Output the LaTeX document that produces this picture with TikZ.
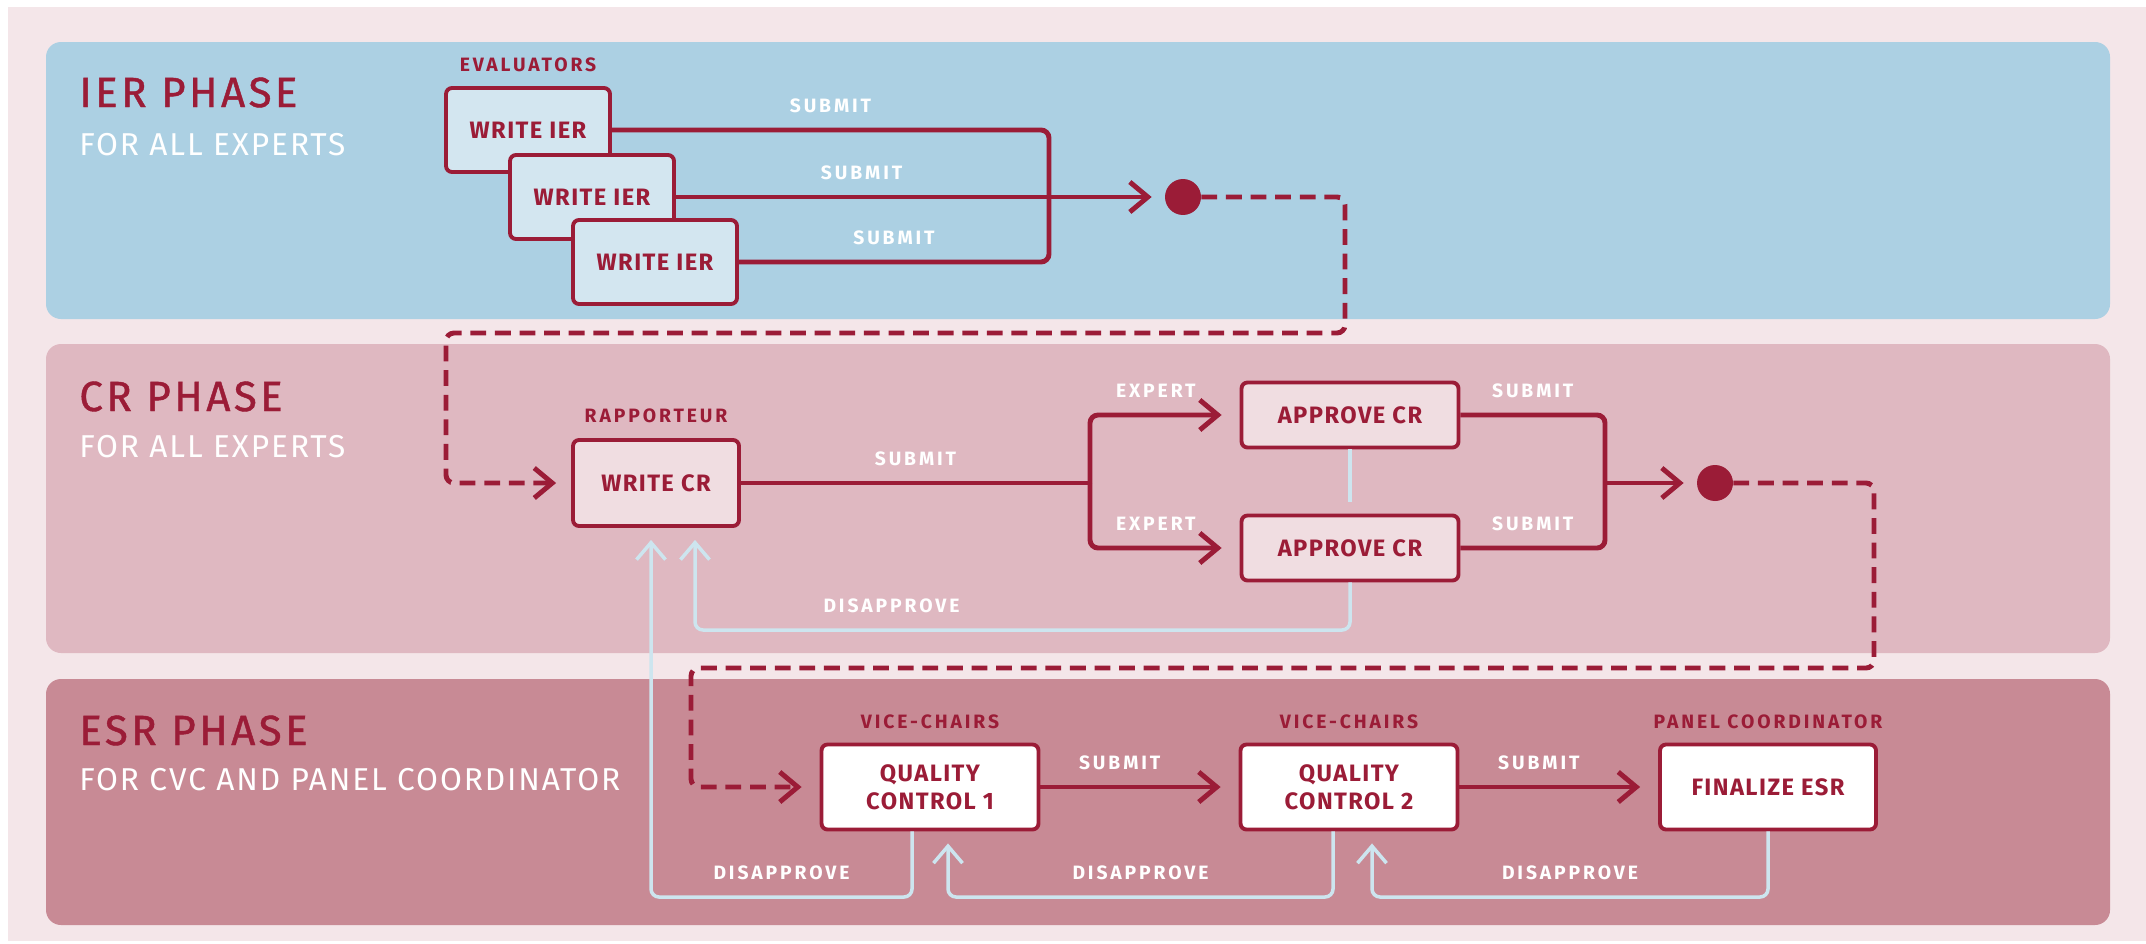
\documentclass[tikz,border=0pt]{standalone}
\usepackage{fontspec}
\setmainfont{Fira Sans}
\newfontfamily\titlefam{Fira Sans}[LetterSpace=8,FakeBold=1]
\newfontfamily\subfam{Fira Sans}[LetterSpace=6]
\newfontfamily\boxfam{Fira Sans}[LetterSpace=6]
\newfontfamily\tagfam{Fira Sans}[LetterSpace=15]
\newcommand{\titlefnt}{\titlefam\fontsize{24}{28}\selectfont}
\newcommand{\subfnt}{\subfam\fontsize{18}{22}\selectfont}
\newcommand{\boxfnt}{\boxfam\bfseries\fontsize{13.5}{16}\selectfont}
\newcommand{\tagfnt}{\tagfam\bfseries\fontsize{11}{13}\selectfont}
\usetikzlibrary{positioning}
\usetikzlibrary{arrows.meta}
\definecolor{bgpink}{HTML}{F4E6E9}
\definecolor{ierblue}{HTML}{ACD0E3}
\definecolor{ierbox}{HTML}{D3E6F0}
\definecolor{crpink}{HTML}{DFB8C1}
\definecolor{crbox}{HTML}{F0DDE1}
\definecolor{esrrose}{HTML}{C88A95}
\definecolor{wine}{HTML}{9B1C37}
\definecolor{paleblue}{HTML}{CDE5EF}

\begin{document}
\begin{tikzpicture}[
  x=0.02cm,y=-0.02cm,
  panel/.style={rounded corners=0.3cm},
  box/.style={draw=wine,line width=2.2pt,rounded corners=0.12cm,minimum width=3.28cm,minimum height=1.68cm,align=center,text=wine,font=\boxfnt},
  role/.style={text=wine,font=\tagfnt,inner sep=0pt},
  tag/.style={text=white,font=\tagfnt,inner sep=0pt,above=0.3cm},
  title/.style={anchor=base west,inner sep=0pt,text=wine,font=\titlefnt},
  sub/.style={anchor=base west,inner sep=0pt,text=white,font=\subfnt},
  dot/.style={circle,fill=wine,minimum size=0.72cm,inner sep=0pt},
  flow/.style={draw=wine,line width=2.8pt,rounded corners=0.16cm},
  dflow/.style={flow,dash pattern=on 9pt off 5pt},
  go/.style={-{Straight Barb[length=0.36cm,width=0.6cm]},shorten >=0.36cm},
  back/.style={draw=paleblue,line width=2pt,rounded corners=0.16cm,-{Straight Barb[length=0.34cm,width=0.58cm]},shorten >=0.24cm}
]
\fill[white] (0,0) rectangle (2146,943);
\useasboundingbox (0,0) rectangle (2146,943);
\fill[bgpink] (8,7) rectangle (2146,941);
\fill[ierblue,panel] (46,42) rectangle (2110,319);
\fill[crpink,panel] (46,344) rectangle (2110,653);
\fill[esrrose,panel] (46,679) rectangle (2110,925);

\node[title] (iert) at (79,107) {IER PHASE};
\node[sub] (iers) at (79,155) {FOR ALL EXPERTS};
\node[title] (crt) at (79,411) {CR PHASE};
\node[sub] (crs) at (79,457) {FOR ALL EXPERTS};
\node[title] (esrt) at (79,745) {ESR PHASE};
\node[sub] (esrs) at (79,790) {FOR CVC AND PANEL COORDINATOR};

\node[box,fill=ierbox] (ier1) at (528,130) {WRITE IER};
\node[box,fill=ierbox] (ier2) at (592,197) {WRITE IER};
\node[box,fill=ierbox] (ier3) at (655,262) {WRITE IER};
\node[role,above=0.28cm of ier1] (eval) {EVALUATORS};
\node[dot] (dot1) at (1183,197) {};

\node[box,fill=crbox,minimum width=3.32cm,minimum height=1.72cm] (wcr) at (656,483) {WRITE CR};
\node[role,above=0.3cm of wcr] (rapp) {RAPPORTEUR};
\node[box,fill=crbox,minimum width=4.34cm,minimum height=1.3cm] (acr1) at (1350,415) {APPROVE CR};
\node[box,fill=crbox,minimum width=4.34cm,minimum height=1.3cm] (acr2) at (1350,548) {APPROVE CR};
\node[dot] (dot2) at (1715,483) {};

\node[box,fill=white,minimum width=4.34cm,minimum height=1.7cm] (qc1) at (930,787) {QUALITY\\CONTROL 1};
\node[box,fill=white,minimum width=4.34cm,minimum height=1.7cm] (qc2) at (1349,787) {QUALITY\\CONTROL 2};
\node[box,fill=white,minimum width=4.32cm,minimum height=1.7cm] (fin) at (1768,787) {FINALIZE ESR};
\node[role,above=0.26cm of qc1] (vc1) {VICE-CHAIRS};
\node[role,above=0.26cm of qc2] (vc2) {VICE-CHAIRS};
\node[role,above=0.26cm of fin] (pc) {PANEL COORDINATOR};

\coordinate (merge) at (1049,197);
\coordinate (turn1) at (1345,333);
\coordinate (turn2) at (446,483);
\coordinate (split) at (1090,483);
\coordinate (join) at (1605,483);
\coordinate (turn3) at (1874,668);
\coordinate (turn4) at (691,787);
\coordinate (d1) at (912,897);
\coordinate (d2) at (651,897);
\coordinate (d3) at (1333,897);
\coordinate (d4) at (948,897);
\coordinate (d6) at (1372,897);
\coordinate (d8) at (695,630);

\draw[flow] (ier1) -| node[tag,pos=0.25]{SUBMIT} (merge) |- node[tag,pos=0.75]{SUBMIT} (ier3);
\draw[flow,go,shorten >=0.26cm] (ier2) -- node[tag,pos=0.38]{SUBMIT} (dot1);
\draw[dflow,go,shorten >=0.3cm] (dot1) -| (turn1) -| (turn2) -- (wcr);

\draw[flow] (wcr) -- node[tag]{SUBMIT} (split);
\draw[flow,go] (split) |- node[tag,pos=0.72]{EXPERT} (acr1);
\draw[flow,go] (split) |- node[tag,pos=0.72]{EXPERT} (acr2);
\draw[flow] (acr1) -| node[tag,pos=0.25]{SUBMIT} (join) |- node[tag,pos=0.75]{SUBMIT} (acr2);
\draw[flow,go,shorten >=0.26cm] (join) -- (dot2);
\draw[dflow,go] (dot2) -| (turn3) -| (turn4) -- (qc1);

\draw[flow,go] (qc1) -- node[tag,pos=0.4]{SUBMIT} (qc2);
\draw[flow,go] (qc2) -- node[tag,pos=0.4]{SUBMIT} (fin);

\draw[back,-] (acr1) -- (acr2);
\draw[back] (acr2) |- node[tag,pos=0.85]{DISAPPROVE} (d8) -- (d8 |- wcr.south);
\draw[back] (qc1.south -| d1) |- node[tag,pos=0.75]{DISAPPROVE} (d2) -- (d2 |- wcr.south);
\draw[back] (qc2.south -| d3) |- node[tag,pos=0.75]{DISAPPROVE} (d4) -- (d4 |- qc1.south);
\draw[back] (fin) |- node[tag,pos=0.75]{DISAPPROVE} (d6) -- (d6 |- qc2.south);
\end{tikzpicture}
\end{document}
